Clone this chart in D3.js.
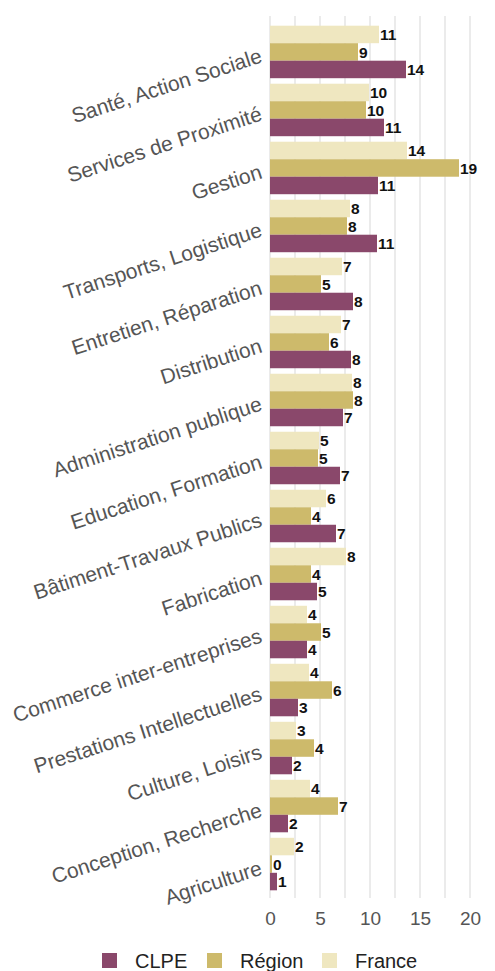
<!DOCTYPE html>
<html>
<head>
<meta charset="utf-8">
<script src="https://cdn.jsdelivr.net/npm/d3@7"></script>
<style>
  html, body { margin: 0; padding: 0; background: #fff; }
  svg { display: block; font-family: Arial, "Liberation Sans", sans-serif; }
</style>
</head>
<body>
<svg id="chart" width="495" height="971"></svg>
<script>
const categories = [
  "Santé, Action Sociale", "Services de Proximité", "Gestion", "Transports, Logistique",
  "Entretien, Réparation", "Distribution", "Administration publique", "Education, Formation",
  "Bâtiment-Travaux Publics", "Fabrication", "Commerce inter-entreprises",
  "Prestations Intellectuelles", "Culture, Loisirs", "Conception, Recherche", "Agriculture"
];
const seriesNames = ["France", "Région", "CLPE"];
const legendOrder = ["CLPE", "Région", "France"];
const franceValues = [10.9, 9.9, 13.7, 8.0, 7.2, 7.1, 8.2, 4.9, 5.6, 7.6, 3.7, 3.9, 2.6, 4.0, 2.4];
const regionValues = [8.8, 9.6, 18.9, 7.7, 5.1, 5.9, 8.3, 4.8, 4.1, 4.1, 5.1, 6.2, 4.4, 6.8, 0.2];
const clpeValues   = [13.6, 11.4, 10.8, 10.7, 8.3, 8.1, 7.3, 7.0, 6.6, 4.7, 3.7, 2.8, 2.2, 1.8, 0.7];
const xTicks = [0, 5, 10, 15, 20];
const gridValues = [0, 2.5, 5, 7.5, 10, 12.5, 15, 17.5, 20];

const colors = { "CLPE": "#8a486b", "Région": "#cdba6b", "France": "#efe7c0" };
const valuesBySeries = { "France": franceValues, "Région": regionValues, "CLPE": clpeValues };

const svg = d3.select("#chart");
const plotTop = 16, plotBottom = 898;

const x = d3.scaleLinear().domain([0, 20]).range([270, 470]);
const y = d3.scaleBand().domain(categories).range([plotTop + 1, plotBottom + 1])
  .paddingInner(0.095).paddingOuter(0.15);
const ySub = d3.scaleBand().domain(seriesNames).range([0, y.bandwidth()]).padding(0);

// gridlines
svg.append("g").selectAll("line").data(gridValues).join("line")
  .attr("x1", d => x(d)).attr("x2", d => x(d))
  .attr("y1", plotTop).attr("y2", plotBottom)
  .attr("stroke", "#e6e6e6").attr("stroke-width", 1.6);

// bars
const groups = svg.append("g").selectAll("g").data(categories).join("g")
  .attr("transform", d => `translate(0,${y(d)})`);

groups.each(function(cat, i) {
  const g = d3.select(this);
  seriesNames.forEach(s => {
    const v = valuesBySeries[s][i];
    g.append("rect")
      .attr("x", x(0)).attr("y", ySub(s))
      .attr("width", Math.max(0, x(v) - x(0)))
      .attr("height", ySub.bandwidth())
      .attr("fill", colors[s]);
    g.append("text")
      .attr("x", x(v) + 1).attr("y", ySub(s) + ySub.bandwidth() / 2)
      .attr("dy", "0.36em")
      .attr("font-size", 15.5).attr("font-weight", "bold").attr("fill", "#111")
      .text(Math.round(v));
  });
});

// category labels
svg.append("g").selectAll("text").data(categories).join("text")
  .attr("transform", d => `translate(261,${y(d) + y.bandwidth() / 2 + 3}) rotate(-18)`)
  .attr("text-anchor", "end").attr("dy", "0.35em")
  .attr("font-size", 21).attr("fill", "#555")
  .text(d => d);

// x axis
const xAxis = svg.append("g").attr("transform", `translate(0,${plotBottom})`)
  .call(d3.axisBottom(x).tickValues(xTicks).tickSize(0).tickPadding(14));
xAxis.select(".domain").remove();
xAxis.selectAll("text").attr("font-size", 19).attr("fill", "#555")
  .attr("font-family", "Arial, Liberation Sans, sans-serif");

// legend
const legendX = [102, 207, 322];
const legend = svg.append("g").selectAll("g").data(legendOrder).join("g")
  .attr("transform", (d, i) => `translate(${legendX[i]},953)`);
legend.append("rect").attr("width", 15).attr("height", 15).attr("fill", d => colors[d]);
legend.append("text").attr("x", 33).attr("y", 15)
  .attr("font-size", 20).attr("fill", "#222").text(d => d);
</script>
</body>
</html>
